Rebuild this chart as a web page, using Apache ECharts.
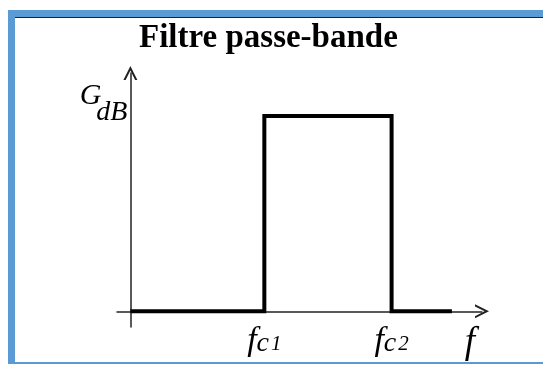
<!DOCTYPE html>
<html>
<head>
<meta charset="utf-8">
<script src="https://cdn.jsdelivr.net/npm/echarts@6/dist/echarts.min.js"></script>
<style>
html, body { margin: 0; padding: 0; background: #fff; }
#frame {
    position: absolute; left: 8px; top: 10px; width: 540px; height: 345px;
    border-top: 7px solid #5b9bd5; border-left: 7px solid #5b9bd5; border-bottom: 2px solid #5b9bd5;
}
#frame .rule { height: 1px; background: #222; }
#chart { position: absolute; left: 0; top: 0; width: 543px; height: 365px; }
</style>
</head>
<body>
<div id="frame"><div class="rule"></div></div>
<div id="chart"></div>
<script>
// band-pass gain template (arbitrary units)
const freq = [0, 4, 4, 7.8, 7.8, 9.6];
const gain = [0, 0, 5, 5, 0, 0];
const cutoffs = [4, 7.8];
const cutoffSubs = ['c1', 'c2'];

const serif = '"Liberation Serif", "Times New Roman", serif';
const chevron = 'path://M0,10 L5,0 L10,10 L8.4,10 L5,3.2 L1.6,10 Z';

const chart = echarts.init(document.getElementById('chart'));

chart.setOption({
    animation: false,
    title: {
        text: 'Filtre passe-bande',
        left: 134,
        top: 17,
        textStyle: {fontFamily: serif, fontWeight: 'bold', fontSize: 33, color: '#000'}
    },
    grid: {left: 117, right: 61, top: 73, bottom: 38},
    xAxis: {
        type: 'value',
        min: -0.4,
        max: 10.5,
        name: 'f',
        nameLocation: 'end',
        nameGap: -12,
        nameTextStyle: {
            fontFamily: serif, fontStyle: 'italic', fontSize: 37, color: '#000',
            align: 'center', verticalAlign: 'top', padding: [13, 0, 0, 0]
        },
        axisLine: {
            onZero: true,
            symbol: ['none', chevron],
            symbolSize: [14, 16],
            lineStyle: {color: '#222', width: 1.5}
        },
        axisTick: {show: false},
        splitLine: {show: false},
        axisLabel: {
            customValues: cutoffs,
            margin: -3,
            formatter: (v) => {
                const s = cutoffSubs[cutoffs.indexOf(v)];
                return '{f|f}{c|' + s[0] + '}{n|' + s[1] + '}';
            },
            rich: {
                f: {fontFamily: serif, fontStyle: 'italic', fontSize: 34, color: '#000', verticalAlign: 'bottom'},
                c: {fontFamily: serif, fontStyle: 'italic', fontSize: 28, color: '#000', verticalAlign: 'bottom'},
                n: {fontFamily: serif, fontStyle: 'italic', fontSize: 21, color: '#000', verticalAlign: 'bottom', padding: [0, 0, 3, 2]}
            }
        }
    },
    yAxis: {
        type: 'value',
        min: -0.4,
        max: 6.1,
        name: '{g|G}{s|dB}',
        nameLocation: 'end',
        nameGap: -8,
        nameTextStyle: {
            align: 'right', verticalAlign: 'top', padding: [0, 3, 0, 0],
            rich: {
                g: {fontFamily: serif, fontStyle: 'italic', fontSize: 30, color: '#000', verticalAlign: 'top', lineHeight: 24},
                s: {fontFamily: serif, fontStyle: 'italic', fontSize: 28, color: '#000', verticalAlign: 'bottom', lineHeight: 46, padding: [0, 0, 0, -5]}
            }
        },
        axisLine: {
            onZero: true,
            symbol: ['none', chevron],
            symbolSize: [14, 18],
            lineStyle: {color: '#222', width: 1.5}
        },
        axisTick: {show: false},
        axisLabel: {show: false},
        splitLine: {show: false}
    },
    series: [{
        type: 'line',
        data: freq.map((x, i) => [x, gain[i]]),
        symbol: 'none',
        lineStyle: {color: '#000', width: 4, join: 'miter'}
    }]
});
</script>
</body>
</html>
